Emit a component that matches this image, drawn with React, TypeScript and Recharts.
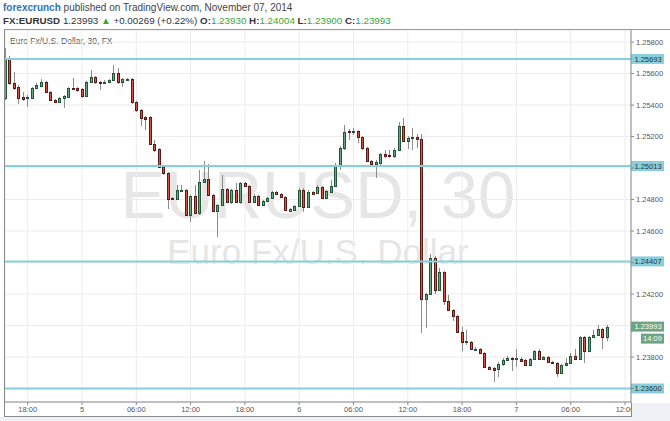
import React from "react";
import { ComposedChart, Bar, XAxis, YAxis, CartesianGrid, ReferenceLine } from "recharts";

const FONT = '"Liberation Sans", Arial, sans-serif';

// 30 minute bars, hours counted from Nov 5 00:00 (first bar = Nov 4 15:30)
const firstBarHour = -8.5;
const barHours = 0.5;

const opens = [
  1.25445, 1.25699, 1.2554, 1.25515, 1.25451, 1.25445, 1.25445, 1.25508, 1.25521, 1.25546,
  1.25483, 1.25432, 1.25419, 1.25445, 1.25451, 1.25508, 1.25508, 1.25502, 1.25457, 1.25546,
  1.25578, 1.25546, 1.25546, 1.25546, 1.25559, 1.25603, 1.25546, 1.25562, 1.25565, 1.25419,
  1.25368, 1.25324, 1.25324, 1.25153, 1.25121, 1.25007, 1.24969, 1.2481, 1.24803, 1.2486,
  1.2486, 1.24702, 1.24822, 1.24715, 1.24911, 1.2493, 1.24829, 1.24727, 1.24765, 1.24867,
  1.24784, 1.2486, 1.24784, 1.24905, 1.24886, 1.24784, 1.24822, 1.24765, 1.24791, 1.2481,
  1.24848, 1.24835, 1.24816, 1.24727, 1.24734, 1.24759, 1.2486, 1.24753, 1.24848, 1.24841,
  1.2488, 1.2481, 1.24848, 1.24886, 1.25019, 1.25127, 1.25235, 1.25229, 1.25235, 1.25197,
  1.25127, 1.25045, 1.25026, 1.25032, 1.25089, 1.25083, 1.25076, 1.25114, 1.25267, 1.25172,
  1.25191, 1.25197, 1.25184, 1.24168, 1.242, 1.24429, 1.24225, 1.2434, 1.24156, 1.24099,
  1.24061, 1.23959, 1.23896, 1.23896, 1.23851, 1.23851, 1.23826, 1.23737, 1.2373, 1.23724,
  1.23756, 1.23781, 1.23794, 1.23788, 1.23788, 1.23781, 1.23749, 1.23788, 1.23838, 1.23788,
  1.238, 1.23768, 1.23762, 1.23699, 1.23749, 1.23762, 1.23807, 1.23788, 1.23927, 1.23838,
  1.23927, 1.2394, 1.23978, 1.2393,
];
const highs = [
  1.25762, 1.25711, 1.2561, 1.25527, 1.25483, 1.25464, 1.25515, 1.2554, 1.25565, 1.25553,
  1.25489, 1.25438, 1.25451, 1.25464, 1.25515, 1.25572, 1.25515, 1.25508, 1.25553, 1.25623,
  1.25584, 1.25553, 1.25559, 1.25565, 1.25654, 1.25635, 1.25572, 1.25572, 1.25572, 1.25426,
  1.25375, 1.2533, 1.2533, 1.25178, 1.25127, 1.25013, 1.24975, 1.24816, 1.24892, 1.24892,
  1.24867, 1.24829, 1.24892, 1.24988, 1.25045, 1.25026, 1.24835, 1.24772, 1.24956, 1.24873,
  1.24867, 1.24905, 1.24911, 1.24911, 1.24892, 1.24835, 1.24829, 1.24797, 1.24816, 1.24854,
  1.24854, 1.24841, 1.24822, 1.24746, 1.24765, 1.24873, 1.24873, 1.2486, 1.24854, 1.24892,
  1.24886, 1.2486, 1.24924, 1.25032, 1.2514, 1.25273, 1.25248, 1.25254, 1.25241, 1.25203,
  1.25134, 1.25051, 1.25051, 1.25095, 1.25114, 1.25114, 1.25127, 1.25292, 1.25318, 1.25203,
  1.25254, 1.25216, 1.25216, 1.24206, 1.24454, 1.24441, 1.24365, 1.24346, 1.24194, 1.24105,
  1.24067, 1.23991, 1.23972, 1.23902, 1.23864, 1.23857, 1.23832, 1.23743, 1.23737, 1.23768,
  1.23794, 1.23807, 1.238, 1.23851, 1.238, 1.23788, 1.23794, 1.23845, 1.23851, 1.23807,
  1.23807, 1.23775, 1.23768, 1.23756, 1.23794, 1.23826, 1.23851, 1.23934, 1.23934, 1.23934,
  1.23972, 1.24004, 1.23985, 1.24004,
];
const lows = [
  1.25432, 1.25527, 1.25496, 1.25407, 1.25426, 1.25388, 1.25438, 1.25502, 1.25515, 1.25476,
  1.25426, 1.25413, 1.25413, 1.25381, 1.25445, 1.25496, 1.25483, 1.25445, 1.25451, 1.2554,
  1.25534, 1.25496, 1.25534, 1.2554, 1.25553, 1.25534, 1.25515, 1.25553, 1.25407, 1.25356,
  1.25267, 1.25241, 1.25146, 1.25102, 1.25, 1.24956, 1.2474, 1.24797, 1.24797, 1.24848,
  1.24695, 1.24657, 1.24708, 1.24702, 1.24905, 1.24822, 1.24721, 1.24562, 1.24759, 1.24778,
  1.24772, 1.24778, 1.24772, 1.2488, 1.24778, 1.24778, 1.24759, 1.24759, 1.24784, 1.24803,
  1.24829, 1.2481, 1.24727, 1.24721, 1.24727, 1.24753, 1.24721, 1.24746, 1.24829, 1.24835,
  1.24803, 1.24803, 1.24841, 1.2488, 1.24988, 1.25114, 1.25178, 1.2521, 1.25159, 1.25114,
  1.25038, 1.25013, 1.24937, 1.25019, 1.25064, 1.25064, 1.25064, 1.25108, 1.25165, 1.25121,
  1.25114, 1.25127, 1.23953, 1.23985, 1.24194, 1.242, 1.24219, 1.2413, 1.24092, 1.24029,
  1.23953, 1.23838, 1.23877, 1.23845, 1.23838, 1.23819, 1.2373, 1.23718, 1.23641, 1.23673,
  1.23743, 1.23775, 1.23711, 1.23737, 1.23768, 1.23743, 1.23743, 1.23781, 1.23781, 1.23781,
  1.23762, 1.23756, 1.23673, 1.23692, 1.23743, 1.23756, 1.23781, 1.23781, 1.23762, 1.23832,
  1.23921, 1.23934, 1.23851, 1.239,
];
const closes = [
  1.25699, 1.2554, 1.25508, 1.25445, 1.25438, 1.25451, 1.25508, 1.25527, 1.25546, 1.25483,
  1.25432, 1.25419, 1.25445, 1.25457, 1.25508, 1.25502, 1.25496, 1.25457, 1.25546, 1.25578,
  1.25546, 1.2554, 1.25548, 1.25559, 1.25603, 1.25546, 1.25565, 1.25565, 1.25419, 1.25368,
  1.25318, 1.25311, 1.25153, 1.25114, 1.25007, 1.24969, 1.24803, 1.24803, 1.2486, 1.24862,
  1.24702, 1.24822, 1.24715, 1.24911, 1.2493, 1.24829, 1.24727, 1.24765, 1.24867, 1.24784,
  1.2486, 1.24784, 1.24905, 1.24886, 1.24784, 1.24822, 1.24765, 1.24791, 1.2481, 1.24848,
  1.24835, 1.24816, 1.24734, 1.2474, 1.24759, 1.2486, 1.24753, 1.24848, 1.24835, 1.2488,
  1.2481, 1.24854, 1.24886, 1.25019, 1.25127, 1.25229, 1.25229, 1.25235, 1.25197, 1.25127,
  1.25045, 1.25026, 1.25038, 1.25089, 1.25076, 1.25076, 1.25114, 1.25267, 1.25172, 1.25191,
  1.25197, 1.25184, 1.24168, 1.242, 1.24429, 1.24225, 1.2434, 1.24156, 1.24099, 1.24061,
  1.23959, 1.23896, 1.23902, 1.23851, 1.23853, 1.23826, 1.23737, 1.23724, 1.23718, 1.23756,
  1.23781, 1.23794, 1.23788, 1.23791, 1.23775, 1.23749, 1.23788, 1.23838, 1.23788, 1.238,
  1.23768, 1.23762, 1.23699, 1.23749, 1.23762, 1.23807, 1.23788, 1.23927, 1.23838, 1.23927,
  1.2394, 1.23978, 1.23927, 1.23993,
];

const timeTicks = [-6, 0, 6, 12, 18, 24, 30, 36, 42, 48, 54, 60];
const timeLabels = ["18:00", "5", "06:00", "12:00", "18:00", "6", "06:00", "12:00", "18:00", "7", "06:00", "12:00"];

const priceTicks = [1.236, 1.238, 1.24, 1.242, 1.244, 1.246, 1.248, 1.25, 1.252, 1.254, 1.256, 1.258];
const hiddenPriceLabels = [1.236, 1.24, 1.244, 1.25];

const levels = [1.25693, 1.25013, 1.24407, 1.236];
const lastPrice = 1.23993;
const countdown = "14:09";

const UP = "#6ba583";
const UP_EDGE = "#225437";
const DOWN = "#d75442";
const DOWN_EDGE = "#5b1a13";
const LEVEL = "#86cfdb";

const data = opens.map((o, i) => ({
  t: firstBarHour + i * barHours,
  open: o,
  high: highs[i],
  low: lows[i],
  close: closes[i],
  range: [lows[i], highs[i]],
}));

function Candle(props: any) {
  const { x, y, width, height, payload } = props;
  if (x == null || !payload) return <g />;
  const { open, close, high, low } = payload;
  const span = high - low || 1e-9;
  const py = (v: number) => y + ((high - v) / span) * height;
  const up = close >= open;
  const c = Math.floor(x + width / 2);
  const top = Math.round(py(Math.max(open, close)));
  const bot = Math.round(py(Math.min(open, close)));
  return (
    <g>
      <line x1={c + 0.5} x2={c + 0.5} y1={y} y2={y + height} stroke="#8c8c8c" strokeWidth={1} />
      <rect
        x={c - 0.5}
        y={top + 0.5}
        width={2}
        height={Math.max(bot - top, 1)}
        fill={up ? UP : DOWN}
        stroke={up ? UP_EDGE : DOWN_EDGE}
        strokeWidth={1}
      />
    </g>
  );
}

function PriceTick(props: any) {
  const { x, y, payload } = props;
  const v = payload.value;
  if (hiddenPriceLabels.some((h) => Math.abs(h - v) < 1e-7)) return <g />;
  return (
    <text x={x} y={y} dy="0.35em" fontSize={7.5} fill="#555" fontFamily={FONT} textAnchor="start">
      {v.toFixed(5)}
    </text>
  );
}

function Tag(props: any) {
  const { viewBox, text, bg, color, sub } = props;
  if (!viewBox) return null;
  const left = viewBox.x + viewBox.width;
  const y = viewBox.y;
  return (
    <g>
      <rect x={left} y={y - 5} width={33} height={10} fill={bg} />
      <text x={left + 17} y={y} dy="0.35em" textAnchor="middle" fontSize={7.5} fill={color} fontFamily={FONT}>
        {text}
      </text>
      {sub ? (
        <g>
          <rect x={left + 10} y={y + 7} width={23} height={10} fill={bg} />
          <text x={left + 21.5} y={y + 12} dy="0.35em" textAnchor="middle" fontSize={7.5} fill={color} fontFamily={FONT}>
            {sub}
          </text>
        </g>
      ) : null}
    </g>
  );
}

export default function App() {
  return (
    <div style={{ position: "absolute", left: 0, top: 0, width: 670, height: 421, background: "#ffffff", overflow: "hidden" }}>
      <svg width={670} height={421} style={{ position: "absolute", left: 0, top: 0 }}>
        <text x={3} y={11} fontSize={10} fontFamily={FONT} fill="#444">
          <tspan fill="#2f74b5" fontWeight={700}>forexcrunch</tspan>
          <tspan> published on TradingView.com, November 07, 2014</tspan>
        </text>
        <text x={3} y={24} fontSize={9.8} fontFamily={FONT} fill="#333">
          <tspan fontWeight={700}>FX:EURUSD</tspan>
          <tspan> 1.23993 </tspan>
          <tspan fill="#3aa63a">▲</tspan>
          <tspan> +0.00269 (+0.22%) </tspan>
          <tspan fontWeight={700}>O:</tspan>
          <tspan fill="#3aa63a">1.23930 </tspan>
          <tspan fontWeight={700}>H:</tspan>
          <tspan fill="#3aa63a">1.24004 </tspan>
          <tspan fontWeight={700}>L:</tspan>
          <tspan fill="#3aa63a">1.23900 </tspan>
          <tspan fontWeight={700}>C:</tspan>
          <tspan fill="#3aa63a">1.23993</tspan>
        </text>
        <text x={318} y={218} textAnchor="middle" fontSize={67} fontFamily={FONT} fill="#e6e6e6">
          EURUSD, 30
        </text>
        <text x={318} y={264} textAnchor="middle" fontSize={35} fontFamily={FONT} fill="#e6e6e6">
          Euro Fx/U.S. Dollar
        </text>
        <text x={10} y={44} fontSize={8.5} fontFamily={FONT} fill="#555">
          Euro Fx/U.S. Dollar, 30, FX
        </text>
      </svg>
      <div style={{ position: "absolute", left: 0, top: 0 }}>
        <ComposedChart width={670} height={416} data={data} margin={{ top: 30, right: 0, left: 5, bottom: 0 }}>
          <CartesianGrid stroke="#ececec" />
          <XAxis
            dataKey="t"
            type="number"
            domain={[-8.508, 60.66]}
            allowDataOverflow
            ticks={timeTicks}
            tickFormatter={(v: number) => timeLabels[timeTicks.indexOf(v)] ?? ""}
            height={14}
            tick={{ fontSize: 7.5, fill: "#555", fontFamily: FONT }}
            tickSize={3}
            tickMargin={2}
            axisLine={{ stroke: "#8a8a8a" }}
            tickLine={{ stroke: "#8a8a8a" }}
          />
          <YAxis
            orientation="right"
            type="number"
            domain={[1.235143, 1.258765]}
            allowDataOverflow
            ticks={priceTicks}
            width={39}
            tick={<PriceTick />}
            tickSize={3}
            tickMargin={2}
            axisLine={{ stroke: "#8a8a8a" }}
            tickLine={{ stroke: "#8a8a8a" }}
          />
          {levels.map((lv) => (
            <ReferenceLine
              key={lv}
              y={lv}
              stroke={LEVEL}
              strokeWidth={2}
              label={<Tag text={lv.toFixed(5)} bg={LEVEL} color="#333" />}
            />
          ))}
          <ReferenceLine
            y={lastPrice}
            stroke="none"
            strokeOpacity={0}
            label={<Tag text={lastPrice.toFixed(5)} bg={UP} color="#ffffff" sub={countdown} />}
          />
          <Bar dataKey="range" barSize={3} shape={<Candle />} isAnimationActive={false} />
        </ComposedChart>
      </div>
      <svg width={670} height={421} style={{ position: "absolute", left: 0, top: 0, pointerEvents: "none" }}>
        <rect x={632} y={403} width={38} height={18} fill="#eef1f5" />
        <rect x={0} y={417} width={670} height={4} fill="#eef1f5" />
        <line x1={4} x2={670} y1={29.5} y2={29.5} stroke="#9a9a9a" />
        <line x1={4.5} x2={4.5} y1={29} y2={417} stroke="#8a8a8a" />
        <line x1={4} x2={632} y1={416.5} y2={416.5} stroke="#8a8a8a" />
        <line x1={631.5} x2={631.5} y1={402} y2={417} stroke="#8a8a8a" />
      </svg>
    </div>
  );
}
